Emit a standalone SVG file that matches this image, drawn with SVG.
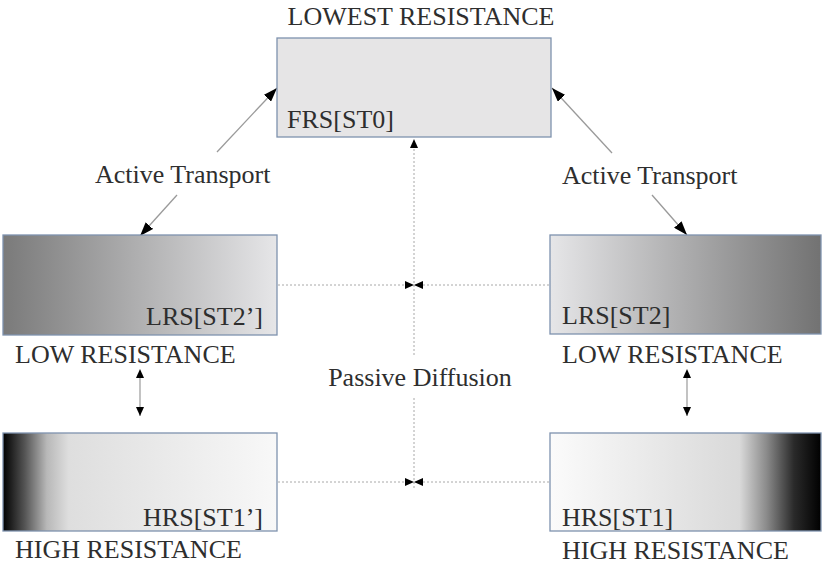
<svg xmlns="http://www.w3.org/2000/svg" width="823" height="566" viewBox="0 0 823 566">
<defs>
<style>
.lbl{font-family:"Liberation Serif","Times New Roman",serif;font-size:26px;fill:#2e2e2e}
.box{stroke:#7e92ae;stroke-width:1.3}
.act{stroke:#9a9a9a;stroke-width:1.3;fill:none}
.dash{stroke:#a8a8a8;stroke-width:1;stroke-dasharray:2 2;fill:none}
.dbl{stroke:#9a9a9a;stroke-width:1.2;fill:none}
</style>
<linearGradient id="gL2" x1="0" y1="0" x2="1" y2="0">
<stop offset="0" stop-color="#7a7a7a"/><stop offset="1" stop-color="#e6e6e8"/>
</linearGradient>
<linearGradient id="gR2" x1="0" y1="0" x2="1" y2="0">
<stop offset="0" stop-color="#e6e6e8"/><stop offset="1" stop-color="#727272"/>
</linearGradient>
<linearGradient id="gL1" x1="0" y1="0" x2="1" y2="0">
<stop offset="0" stop-color="#000"/><stop offset="0.08" stop-color="#555"/><stop offset="0.16" stop-color="#b8b8b8"/><stop offset="0.24" stop-color="#dedede"/><stop offset="1" stop-color="#f8f8f8"/>
</linearGradient>
<linearGradient id="gR1" x1="0" y1="0" x2="1" y2="0">
<stop offset="0" stop-color="#fbfbfb"/><stop offset="0.7" stop-color="#d9d9d9"/><stop offset="0.8" stop-color="#8a8a8a"/><stop offset="0.9" stop-color="#2a2a2a"/><stop offset="1" stop-color="#000"/>
</linearGradient>
<marker id="big" viewBox="0 0 14 10" refX="14" refY="5" markerWidth="14" markerHeight="10" markerUnits="userSpaceOnUse" orient="auto">
<path d="M0,0 L14,5 L0,10 Z" fill="#000"/>
</marker>
<marker id="sm" viewBox="0 0 9 8" refX="9" refY="4" markerWidth="9" markerHeight="8" markerUnits="userSpaceOnUse" orient="auto">
<path d="M0,0 L9,4 L0,8 Z" fill="#000"/>
</marker>
<marker id="smS" viewBox="0 0 9 8" refX="0" refY="4" markerWidth="9" markerHeight="8" markerUnits="userSpaceOnUse" orient="auto-start-reverse">
<path d="M0,0 L9,4 L0,8 Z" fill="#000"/>
</marker>
</defs>
<rect width="823" height="566" fill="#fff"/>

<g id="connectors">
<line class="act" x1="217" y1="152" x2="277" y2="88" marker-end="url(#big)"/>
<line class="act" x1="177" y1="195" x2="140" y2="236" marker-end="url(#big)"/>
<line class="act" x1="612" y1="153" x2="552" y2="88" marker-end="url(#big)"/>
<line class="act" x1="652" y1="195" x2="687" y2="235" marker-end="url(#big)"/>
<line class="dash" x1="414" y1="355" x2="414" y2="139" marker-end="url(#sm)"/>
<line class="dash" x1="414" y1="398" x2="414" y2="490"/>
<line class="dash" x1="278" y1="285" x2="414" y2="285" marker-end="url(#sm)"/>
<line class="dash" x1="549" y1="285" x2="414" y2="285" marker-end="url(#sm)"/>
<line class="dash" x1="278" y1="482" x2="414" y2="482" marker-end="url(#sm)"/>
<line class="dash" x1="549" y1="482" x2="414" y2="482" marker-end="url(#sm)"/>
<line class="dbl" x1="140" y1="378" x2="140" y2="416" marker-start="url(#smS)" marker-end="url(#sm)"/>
<line class="dbl" x1="687" y1="378" x2="687" y2="416" marker-start="url(#smS)" marker-end="url(#sm)"/>
<text class="lbl" x="95" y="183">Active Transport</text>
<text class="lbl" x="562" y="184">Active Transport</text>
<text class="lbl" x="420" y="386" text-anchor="middle">Passive Diffusion</text>
</g>

<g id="frs">
<text class="lbl" x="421" y="25" text-anchor="middle">LOWEST RESISTANCE</text>
<rect class="box" x="277" y="38" width="274" height="99" fill="#e6e5e6"/>
<text class="lbl" x="287" y="128">FRS[ST0]</text>
</g>

<g id="lrs-left">
<rect class="box" x="3" y="235" width="274" height="100" fill="url(#gL2)"/>
<text class="lbl" x="263" y="325" text-anchor="end">LRS[ST2’]</text>
<text class="lbl" x="15" y="363">LOW RESISTANCE</text>
</g>

<g id="lrs-right">
<rect class="box" x="550" y="235" width="271" height="99" fill="url(#gR2)"/>
<text class="lbl" x="562" y="324">LRS[ST2]</text>
<text class="lbl" x="562" y="363">LOW RESISTANCE</text>
</g>

<g id="hrs-left">
<rect class="box" x="3" y="433" width="274" height="98" fill="url(#gL1)"/>
<text class="lbl" x="263" y="526" text-anchor="end">HRS[ST1’]</text>
<text class="lbl" x="15" y="558">HIGH RESISTANCE</text>
</g>

<g id="hrs-right">
<rect class="box" x="550" y="433" width="271" height="98" fill="url(#gR1)"/>
<text class="lbl" x="562" y="526">HRS[ST1]</text>
<text class="lbl" x="562" y="559">HIGH RESISTANCE</text>
</g>
</svg>
